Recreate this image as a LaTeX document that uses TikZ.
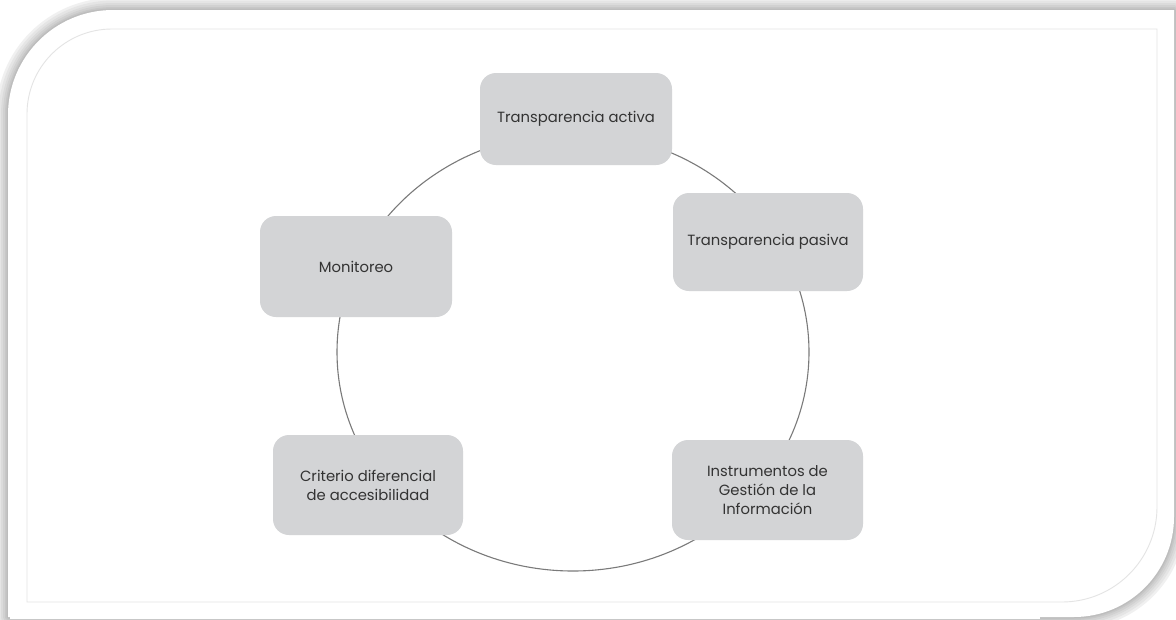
\documentclass[tikz,border=0pt]{standalone}
\usepackage{fontspec}
\newfontfamily\boxfont{Poppins}
\definecolor{boxgray}{HTML}{D3D4D6}
\definecolor{txtgray}{HTML}{333333}
\definecolor{ringgray}{HTML}{7A7A7A}
\definecolor{framegray}{HTML}{E4E4E4}
\newcommand\cardoutline{(8,617) -- (8,115) arc[start angle=180,end angle=270,radius=105] -- (1174,10) -- (1174,517) arc[start angle=0,end angle=90,radius=100] -- cycle}
\tikzset{
  box/.style={fill=boxgray, rounded corners=16pt, inner sep=0pt, align=center,
    text=txtgray, font=\boxfont\fontsize{14.8}{19}\selectfont},
  ring/.style={draw=ringgray, line width=1.1pt},
  innerframe/.style={draw=framegray, line width=0.9pt}
}
\begin{document}
\begin{tikzpicture}[x=1pt,y=-1pt]
\useasboundingbox (0,0) rectangle (1176,619);
\fill[white] (0,0) rectangle (1176,619);
% shadow of the card
\foreach \w/\c in {24/6,19/10,14/14,10/18,6/22,3/26}
  \draw[line width=\w pt, black!\c, line join=round] \cardoutline;
\fill[white] \cardoutline;
\fill[white] (10,616) rectangle (1040,619);
% inner frame
\draw[innerframe] (27,602) -- (27,114) arc[start angle=180,end angle=270,radius=85]
  -- (1157,29) -- (1157,507) arc[start angle=0,end angle=90,radius=95] -- cycle;
% cycle ring
\draw[ring] (573,352) ellipse [x radius=236, y radius=219];
% boxes
\node[box, minimum width=192pt, minimum height=92pt] (activa) at (576,119) {Transparencia activa};
\node[box, minimum width=190pt, minimum height=98pt] (pasiva) at (768,242) {Transparencia pasiva};
\node[box, minimum width=191pt, minimum height=100pt] (instr) at (767.5,490) {Instrumentos de\\Gestión de la\\Información};
\node[box, minimum width=190pt, minimum height=100pt] (crit) at (368,485) {Criterio diferencial\\de accesibilidad};
\node[box, minimum width=192pt, minimum height=101pt] (monit) at (356,266.5) {Monitoreo};
\end{tikzpicture}
\end{document}
